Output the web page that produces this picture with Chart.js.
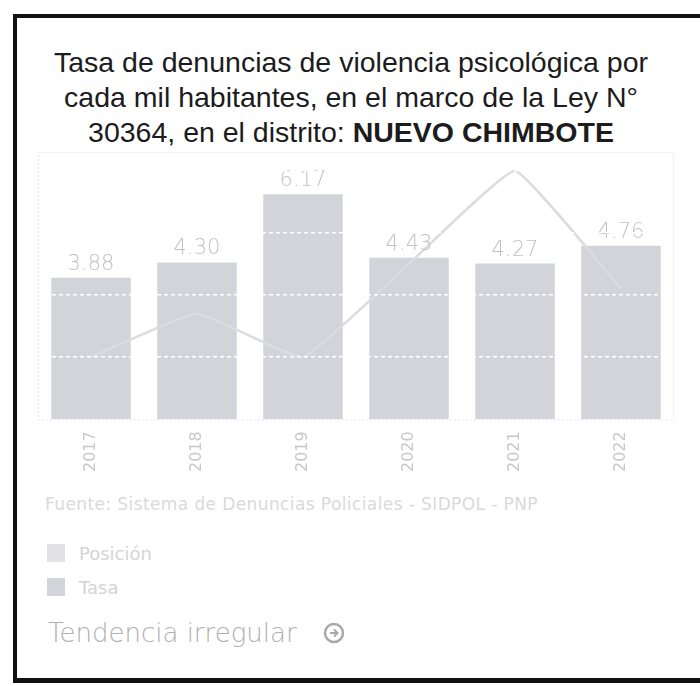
<!DOCTYPE html>
<html lang="es">
<head>
<meta charset="utf-8">
<script src="https://cdn.jsdelivr.net/npm/chart.js@4.4.0/dist/chart.umd.min.js"></script>
<style>
  body { margin: 0; background: #fff; width: 700px; height: 686px; overflow: hidden; position: relative; }
  .frame { position: absolute; left: 13px; top: 14px; width: 690px; height: 669px; border: 4px solid #111; border-bottom-width: 5px; border-right: 1px solid #ccc; box-sizing: border-box; }
  .title { position: absolute; left: 13px; top: 45px; width: 676px; text-align: center; font-family: "Liberation Sans", Arial, sans-serif; font-size: 28.5px; line-height: 35px; color: #1c1c1c; }
  .title b { font-weight: bold; }
  .chartbox { position: absolute; left: 38px; top: 152px; width: 636px; height: 324px; }
  .source { position: absolute; left: 45px; top: 494px; font-family: "DejaVu Sans", sans-serif; font-size: 17px; letter-spacing: 0.4px; color: #dadada; }
  .legend { position: absolute; left: 47px; top: 536px; font-family: "DejaVu Sans", sans-serif; font-size: 18px; color: #d4d4d4; }
  .legend div { height: 34px; display: flex; align-items: center; }
  .legend span.sw { display: inline-block; width: 18px; height: 18px; margin-right: 14px; }
  .trend { position: absolute; left: 48px; top: 618px; font-family: "DejaVu Sans", sans-serif; font-weight: 200; font-size: 26px; color: #b0b0b0; display: flex; align-items: center; }
  .trend svg { margin-left: 26px; }
</style>
</head>
<body>
<div class="frame"></div>
<div class="title">Tasa de denuncias de violencia psicológica por<br>cada mil habitantes, en el marco de la Ley N°<br>30364, en el distrito: <b>NUEVO CHIMBOTE</b></div>
<div class="chartbox"><canvas id="chart"></canvas></div>
<div class="source">Fuente: Sistema de Denuncias Policiales - SIDPOL - PNP</div>
<div class="legend" id="legend"></div>
<div class="trend">Tendencia irregular
  <svg width="22" height="22" viewBox="0 0 22 22"><circle cx="11" cy="11" r="9" fill="none" stroke="#a8a8a8" stroke-width="2.5"/><path d="M7 11 h7 M11 7.5 l3.5 3.5 l-3.5 3.5" fill="none" stroke="#a8a8a8" stroke-width="2"/></svg>
</div>

<script>
const years = ['2017', '2018', '2019', '2020', '2021', '2022'];
const tasa = [3.88, 4.30, 6.17, 4.43, 4.27, 4.76];
const posicion = [10, 17, 10, 25, 40, 21];
const seriesNames = ['Posición', 'Tasa'];
const seriesColors = ['#e2e2e6', '#d3d3da'];

// values over the bars
const barValues = {
    id: 'barValues',
    afterDatasetsDraw(chart) {
        const ctx = chart.ctx;
        const meta = chart.getDatasetMeta(1);
        ctx.save();
        ctx.font = '200 21px "DejaVu Sans"';
        ctx.fillStyle = '#c2c2c2';
        ctx.textAlign = 'center';
        ctx.textBaseline = 'bottom';
        meta.data.forEach((bar, i) => {
            ctx.fillText(tasa[i].toFixed(2), bar.x, bar.y - 3);
        });
        ctx.restore();
    }
};

// faint dotted frame round the plot
const plotFrame = {
    id: 'plotFrame',
    afterDraw(chart) {
        const a = chart.chartArea;
        const ctx = chart.ctx;
        ctx.save();
        ctx.strokeStyle = '#e4e4e4';
        ctx.setLineDash([2, 2]);
        ctx.lineWidth = 1;
        ctx.strokeRect(a.left + 0.5, a.top + 0.5, a.right - a.left - 1, a.bottom - a.top);
        ctx.restore();
    }
};

const ctx = document.getElementById('chart').getContext('2d');
const chart = new Chart(ctx, {
    data: {
        labels: years,
        datasets: [{
            type: 'line',
            label: seriesNames[0],
            data: posicion,
            yAxisID: 'y1',
            borderColor: '#dcdcdf',
            borderWidth: 2.5,
            pointRadius: 0,
            tension: 0.1,
            order: 0
        }, {
            type: 'bar',
            label: seriesNames[1],
            data: tasa,
            yAxisID: 'y',
            backgroundColor: seriesColors[1],
            categoryPercentage: 1,
            barPercentage: 0.75,
            order: 1
        }]
    },
    options: {
        responsive: true,
        maintainAspectRatio: false,
        animation: false,
        layout: { padding: 0 },
        plugins: { legend: { display: false }, tooltip: { enabled: false } },
        scales: {
            x: {
                grid: { display: false },
                border: { display: false },
                ticks: { color: '#c8c8c8', font: { family: 'DejaVu Sans', size: 16 }, minRotation: 90, maxRotation: 90, padding: 4 }
            },
            y: {
                display: false,
                min: 0,
                max: 7.33
            },
            y1: {
                position: 'right',
                min: 0,
                max: 43,
                ticks: { display: false, stepSize: 10 },
                grid: { color: '#ffffff', lineWidth: 1.5, drawTicks: false, z: 1 },
                border: { display: false, dash: [4, 3] }
            }
        }
    },
    plugins: [barValues, plotFrame]
});

// legend from the series names
const legend = document.getElementById('legend');
seriesNames.forEach((name, i) => {
    const row = document.createElement('div');
    row.innerHTML = '<span class="sw" style="background:' + seriesColors[i] + '"></span>' + name;
    legend.appendChild(row);
});
</script>
</body>
</html>
